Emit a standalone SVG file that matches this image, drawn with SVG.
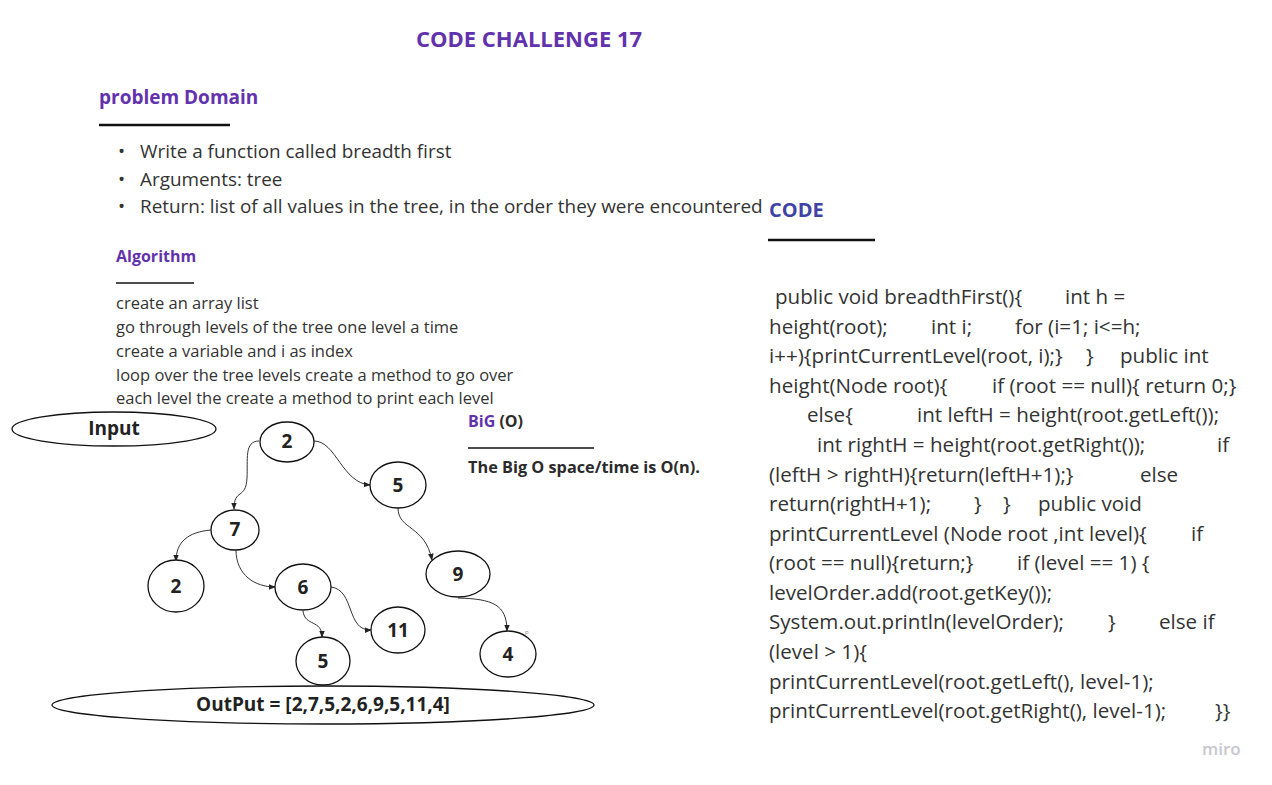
<svg xmlns="http://www.w3.org/2000/svg" width="1272" height="785" viewBox="0 0 1272 785">
<defs>
<style>
text{font-family:"Open Sans","Noto Sans","Liberation Sans",sans-serif;fill:#2b2b2b}
.h{font-weight:bold;fill:#6232ad}
.bl{font-size:18.9px;fill:#333}
.al{font-size:16.5px;fill:#333}
.code{font-size:20.6px;fill:#333;white-space:pre}
.nd{fill:#fff;stroke:#111;stroke-width:1.3}
.nt{font-size:19px;font-weight:bold;text-anchor:middle;fill:#222}
.ul{stroke:#111}
.cn{fill:none;stroke:#333;stroke-width:1}
</style>
<marker id="ah" viewBox="0 0 10 10" refX="9" refY="5" markerWidth="7" markerHeight="7" orient="auto" markerUnits="userSpaceOnUse">
<path d="M0,1 L10,5 L0,9 z" fill="#222"/>
</marker>
</defs>
<rect width="1272" height="785" fill="#fff"/>

<g id="header">
<text class="h" x="416" y="47" font-size="22">CODE CHALLENGE 17</text>
<text class="h" x="99" y="104" font-size="19">problem Domain</text>
<line class="ul" x1="99" y1="125" x2="230" y2="125" stroke-width="2.5"/>
<text class="bl" x="118" y="158">•</text><text class="bl" x="140" y="158">Write a function called breadth first</text>
<text class="bl" x="118" y="186">•</text><text class="bl" x="140" y="186">Arguments: tree</text>
<text class="bl" x="118" y="213">•</text><text class="bl" x="140" y="213">Return: list of all values in the tree, in the order they were encountered</text>
</g>

<g id="algorithm">
<text class="h" x="116" y="262" font-size="16">Algorithm</text>
<line class="ul" x1="116" y1="283" x2="194" y2="283" stroke-width="1.5"/>
<text class="al" x="116" y="309">create an array list</text>
<text class="al" x="116" y="333">go through levels of the tree one level a time</text>
<text class="al" x="116" y="357">create a variable and i as index</text>
<text class="al" x="116" y="381">loop over the tree levels create a method to go over</text>
<text class="al" x="116" y="404">each level the create a method to print each level</text>
</g>

<g id="bigo">
<text x="468" y="427" font-size="16" font-weight="bold"><tspan fill="#6232ad">BiG</tspan> (O)</text>
<line class="ul" x1="468" y1="448" x2="594" y2="448" stroke-width="1.5"/>
<text x="468" y="473" font-size="16.3" font-weight="bold">The Big O space/time is O(n).</text>
</g>

<g id="code">
<text x="769" y="217" font-size="20" font-weight="bold" fill="#3f43a6" style="fill:#3f43a6">CODE</text>
<line class="ul" x1="768" y1="240" x2="875" y2="240" stroke-width="2.5"/>
<text class="code" y="304"><tspan x="775">public void breadthFirst(){</tspan><tspan x="1065">int h =</tspan></text>
<text class="code" y="334"><tspan x="769">height(root);</tspan><tspan x="931">int i;</tspan><tspan x="1015">for (i=1; i&lt;=h;</tspan></text>
<text class="code" y="363"><tspan x="769">i++){printCurrentLevel(root, i);}</tspan><tspan x="1086">}</tspan><tspan x="1120">public int</tspan></text>
<text class="code" y="393"><tspan x="769">height(Node root){</tspan><tspan x="992">if (root == null){ return 0;}</tspan></text>
<text class="code" y="422"><tspan x="807">else{</tspan><tspan x="917">int leftH = height(root.getLeft());</tspan></text>
<text class="code" y="452"><tspan x="817">int rightH = height(root.getRight());</tspan><tspan x="1217">if</tspan></text>
<text class="code" y="482"><tspan x="769">(leftH &gt; rightH){return(leftH+1);}</tspan><tspan x="1140">else</tspan></text>
<text class="code" y="511"><tspan x="769">return(rightH+1);</tspan><tspan x="974">}</tspan><tspan x="1003">}</tspan><tspan x="1038">public void</tspan></text>
<text class="code" y="541"><tspan x="769">printCurrentLevel (Node root ,int level){</tspan><tspan x="1191">if</tspan></text>
<text class="code" y="570"><tspan x="769">(root == null){return;}</tspan><tspan x="1017">if (level == 1) {</tspan></text>
<text class="code" y="600"><tspan x="769">levelOrder.add(root.getKey());</tspan></text>
<text class="code" y="629"><tspan x="769">System.out.println(levelOrder);</tspan><tspan x="1108">}</tspan><tspan x="1159">else if</tspan></text>
<text class="code" y="659"><tspan x="769">(level &gt; 1){</tspan></text>
<text class="code" y="689"><tspan x="769">printCurrentLevel(root.getLeft(), level-1);</tspan></text>
<text class="code" y="718"><tspan x="769">printCurrentLevel(root.getRight(), level-1);</tspan><tspan x="1215">}}</tspan></text>
</g>

<g id="connectors">
<path class="cn" d="M259,441 C244,441 248,460 247,478 C246,500 234,488 234,509" marker-end="url(#ah)"/>
<path class="cn" d="M314,441 C336,441 342,483 370,485" marker-end="url(#ah)"/>
<path class="cn" d="M398,508 C398,530 425,525 432,560" marker-end="url(#ah)"/>
<path class="cn" d="M211,530 C188,532 176,542 176,561" marker-end="url(#ah)"/>
<path class="cn" d="M236,550 C236,575 255,587 275,587" marker-end="url(#ah)"/>
<path class="cn" d="M303,611 C305,627 322,619 322,637" marker-end="url(#ah)"/>
<path class="cn" d="M331,587 C355,590 346,631 371,630" marker-end="url(#ah)"/>
<path class="cn" d="M458,598 C492,599 507,604 507,631" marker-end="url(#ah)"/>
</g>

<g id="input"><ellipse class="nd" cx="114" cy="429" rx="102" ry="17"/><text class="nt" x="114" y="435">Input</text></g>
<g id="n2"><ellipse class="nd" cx="287" cy="442" rx="27" ry="20"/><text class="nt" x="287" y="448" font-size="17">2</text></g>
<g id="n5"><ellipse class="nd" cx="398" cy="485" rx="28" ry="23"/><text class="nt" x="398" y="492" font-size="18">5</text></g>
<g id="n7"><ellipse class="nd" cx="235" cy="530" rx="24" ry="20"/><text class="nt" x="235" y="536" font-size="17">7</text></g>
<g id="n9"><ellipse class="nd" cx="458" cy="574" rx="32" ry="23"/><text class="nt" x="458" y="581" font-size="18">9</text></g>
<g id="n2b"><ellipse class="nd" cx="176" cy="586" rx="28" ry="26"/><text class="nt" x="176" y="593" font-size="18">2</text></g>
<g id="n6"><ellipse class="nd" cx="303" cy="587" rx="28" ry="23"/><text class="nt" x="303" y="594" font-size="18">6</text></g>
<g id="n11"><ellipse class="nd" cx="398" cy="630" rx="27" ry="23"/><text class="nt" x="398" y="637" font-size="18">11</text></g>
<g id="n5b"><ellipse class="nd" cx="323" cy="661" rx="27" ry="24"/><text class="nt" x="323" y="668" font-size="18">5</text></g>
<g id="n4"><ellipse class="nd" cx="508" cy="654" rx="28" ry="23"/><text class="nt" x="508" y="661" font-size="18">4</text><text x="525" y="634" font-size="6" fill="#888" style="fill:#888">p</text></g>
<g id="output"><ellipse class="nd" cx="323" cy="705" rx="271" ry="19"/><text class="nt" x="323" y="711" font-size="19.6">OutPut = [2,7,5,2,6,9,5,11,4]</text></g>

<text x="1202" y="755" font-size="17" font-weight="600" fill="#c8c8d0" style="fill:#c8c8d0">miro</text>
</svg>
